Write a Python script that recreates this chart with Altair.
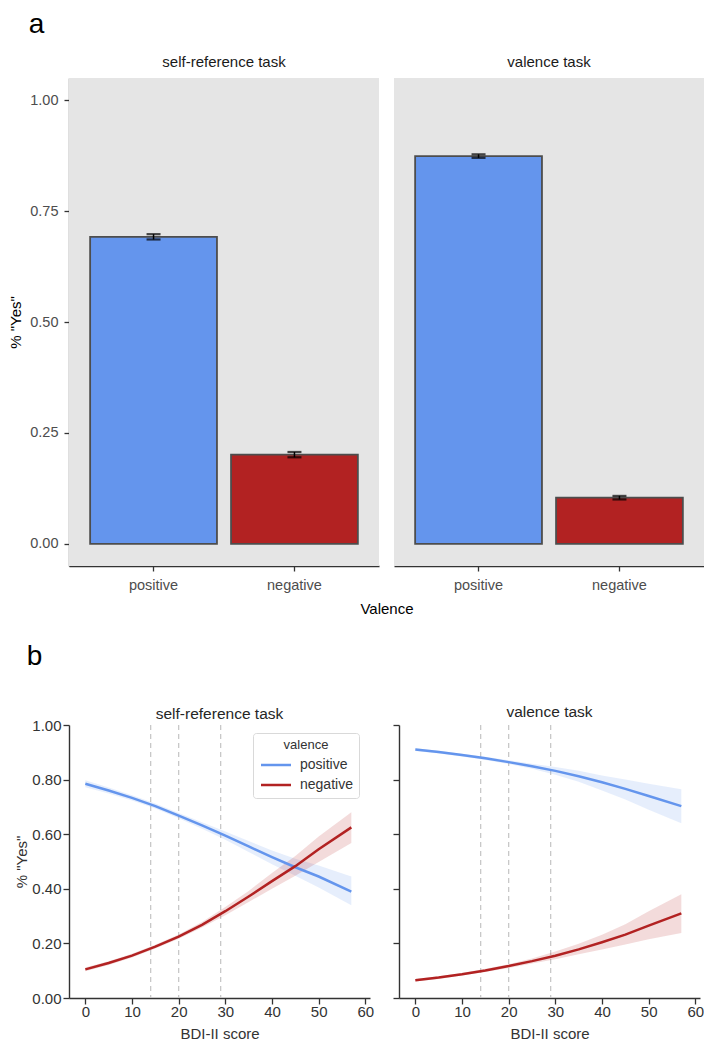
import altair as alt
import pandas as pd

FONT = "Liberation Sans"

tasks = ["self-reference task", "valence task"]
valences = ["positive", "negative"]
colors = ["#6495ED", "#B22222"]

# ---- panel a: proportion of "Yes" responses ----
bar_task = ["self-reference task", "self-reference task", "valence task", "valence task"]
bar_valence = ["positive", "negative", "positive", "negative"]
bar_mean = [0.692, 0.201, 0.874, 0.104]
bar_se = [0.006, 0.006, 0.004, 0.004]

# ---- panel b: model predictions over BDI-II score ----
bdi = [0, 5, 10, 15, 20, 25, 30, 35, 40, 45, 50, 57]
self_pos = [0.785, 0.760, 0.733, 0.703, 0.668, 0.632, 0.595, 0.555, 0.516, 0.479, 0.445, 0.390]
self_pos_lo = [0.772, 0.749, 0.723, 0.694, 0.658, 0.620, 0.580, 0.535, 0.490, 0.448, 0.405, 0.340]
self_pos_hi = [0.798, 0.771, 0.743, 0.712, 0.678, 0.644, 0.610, 0.575, 0.540, 0.510, 0.485, 0.445]
self_neg = [0.105, 0.128, 0.155, 0.188, 0.225, 0.268, 0.318, 0.372, 0.428, 0.483, 0.545, 0.625]
self_neg_lo = [0.098, 0.121, 0.148, 0.181, 0.217, 0.258, 0.303, 0.352, 0.400, 0.448, 0.498, 0.568]
self_neg_hi = [0.112, 0.135, 0.162, 0.195, 0.233, 0.278, 0.333, 0.392, 0.458, 0.520, 0.592, 0.680]
val_pos = [0.910, 0.901, 0.890, 0.878, 0.864, 0.849, 0.832, 0.812, 0.790, 0.766, 0.740, 0.703]
val_pos_lo = [0.905, 0.896, 0.885, 0.872, 0.857, 0.840, 0.818, 0.792, 0.760, 0.727, 0.690, 0.640]
val_pos_hi = [0.915, 0.906, 0.895, 0.884, 0.871, 0.858, 0.846, 0.832, 0.815, 0.800, 0.785, 0.765]
val_neg = [0.065, 0.075, 0.087, 0.101, 0.117, 0.135, 0.155, 0.178, 0.204, 0.232, 0.265, 0.310]
val_neg_lo = [0.060, 0.070, 0.082, 0.095, 0.110, 0.126, 0.142, 0.160, 0.178, 0.196, 0.215, 0.238]
val_neg_hi = [0.070, 0.080, 0.092, 0.107, 0.124, 0.145, 0.170, 0.199, 0.232, 0.270, 0.318, 0.380]
cutoffs = [14, 20, 29]

# ---------------- panel a ----------------
df_a = pd.DataFrame({
    "task": bar_task,
    "valence": bar_valence,
    "mean": bar_mean,
    "lo": [m - s for m, s in zip(bar_mean, bar_se)],
    "hi": [m + s for m, s in zip(bar_mean, bar_se)],
})

x_a = alt.X(
    "valence:N", sort=valences, title=None,
    scale=alt.Scale(paddingInner=0.1, paddingOuter=0.15),
    axis=alt.Axis(labelAngle=0, labelFontSize=14.5, labelColor="#4D4D4D",
                  tickColor="#333333", tickSize=5, domainColor="#333333",
                  domainWidth=1.3, tickWidth=1.3, labelPadding=7),
)
y_scale_a = alt.Scale(domain=[-0.05, 1.05], nice=False, zero=False)
y_a = alt.Y(
    "mean:Q", title='% "Yes"', scale=y_scale_a,
    axis=alt.Axis(values=[0, 0.25, 0.5, 0.75, 1.0], format=".2f", grid=False,
                  labelFontSize=14.5, labelColor="#4D4D4D", tickColor="#333333",
                  tickSize=5, tickWidth=1.3, domainColor="#333333", domainWidth=1.3,
                  labelPadding=6, titleFontSize=15, titleFontWeight="normal",
                  titleColor="#000000", titlePadding=6),
)
color_a = alt.Color("valence:N", scale=alt.Scale(domain=valences, range=colors), legend=None)

base_a = alt.Chart(df_a)
bars = base_a.mark_bar(stroke="#4D4D4D", strokeWidth=1.8).encode(
    x=x_a, y=y_a, y2=alt.datum(0), color=color_a)
err_rule = base_a.mark_rule(color="black", strokeWidth=1.5).encode(
    x=x_a, y=alt.Y("lo:Q", scale=y_scale_a, title='% "Yes"'), y2="hi:Q")
err_lo = base_a.mark_tick(color="black", size=14, thickness=2.2).encode(
    x=x_a, y=alt.Y("lo:Q", scale=y_scale_a, title='% "Yes"'))
err_hi = base_a.mark_tick(color="black", size=14, thickness=2.2).encode(
    x=x_a, y=alt.Y("hi:Q", scale=y_scale_a, title='% "Yes"'))

layer_a = alt.layer(bars, err_rule, err_lo, err_hi).properties(
    width=310, height=488,
    view=alt.ViewBackground(fill="#E5E5E5", stroke=None),
)
chart_a = layer_a.facet(
    column=alt.Column(
        "task:N", sort=tasks,
        header=alt.Header(title="Valence", titleOrient="bottom", labelOrient="top",
                          labelFontSize=15, labelColor="#1A1A1A", labelPadding=8,
                          titleFontSize=15, titleFontWeight="normal",
                          titleColor="#000000", titlePadding=0, labelFont=FONT, titleFont=FONT),
    ),
    spacing=15,
    title=alt.TitleParams("a", anchor="start", fontSize=28, fontWeight="normal",
                          color="#000000", dx=20, offset=16, font=FONT),
)

# ---------------- panel b ----------------
rows = []
series = {
    ("self-reference task", "positive"): (self_pos, self_pos_lo, self_pos_hi),
    ("self-reference task", "negative"): (self_neg, self_neg_lo, self_neg_hi),
    ("valence task", "positive"): (val_pos, val_pos_lo, val_pos_hi),
    ("valence task", "negative"): (val_neg, val_neg_lo, val_neg_hi),
}
for (task, val), (m, lo, hi) in series.items():
    for i, b in enumerate(bdi):
        rows.append({"task": task, "valence": val, "bdi": b, "mean": m[i], "lo": lo[i], "hi": hi[i]})
df_b = pd.DataFrame(rows)
df_cut = pd.DataFrame({"bdi": cutoffs})


def panel_b(task, first):
    d = df_b[df_b["task"] == task]
    x_scale = alt.Scale(domain=[-3.5, 61], nice=False, zero=False)
    x_axis = alt.Axis(values=[0, 10, 20, 30, 40, 50, 60], grid=False, labelFontSize=15,
                      labelColor="#333333", tickColor="#333333", tickSize=6, tickWidth=1.3,
                      domainColor="#333333", domainWidth=1.4, labelPadding=0,
                      titleFontSize=15, titleFontWeight="normal", titleColor="#333333",
                      titlePadding=7)
    y_scale = alt.Scale(domain=[0, 1], nice=False, zero=False)
    y_axis = alt.Axis(values=[0, 0.2, 0.4, 0.6, 0.8, 1.0], format=".2f", grid=False,
                      labels=first, labelFontSize=15, labelColor="#333333",
                      tickColor="#333333", tickSize=6, tickWidth=1.3, domainColor="#333333",
                      domainWidth=1.4, labelPadding=2, titleFontSize=15,
                      titleFontWeight="normal", titleColor="#333333", titlePadding=2)
    ytitle = '% "Yes"' if first else None
    xe = alt.X("bdi:Q", title="BDI-II score", scale=x_scale, axis=x_axis)

    layers = [alt.Chart(df_cut).mark_rule(strokeDash=[5, 4], color="#C8C8C8",
                                          strokeWidth=1.3).encode(x=xe)]
    for val, col in zip(valences, colors):
        dv = d[d["valence"] == val]
        layers.append(alt.Chart(dv).mark_area(color=col, opacity=0.16).encode(
            x=xe,
            y=alt.Y("lo:Q", title=ytitle, scale=y_scale, axis=y_axis),
            y2="hi:Q",
        ))
    if first:
        leg = alt.Legend(title="valence", orient="none", legendX=184, legendY=8,
                         symbolType="M-2,0L2,0", symbolSize=225, symbolStrokeWidth=2.5,
                         symbolOffset=8, labelOffset=15,
                         labelFontSize=14, labelColor="#333333", titleFontSize=13,
                         titleFontWeight="normal", titleColor="#333333", titleAnchor="middle",
                         strokeColor="#D9D9D9", fillColor="white", cornerRadius=3,
                         padding=6, rowPadding=4, titlePadding=4,
                         labelFont=FONT, titleFont=FONT)
    else:
        leg = None
    layers.append(alt.Chart(d).mark_line(strokeWidth=2.5).encode(
        x=xe,
        y=alt.Y("mean:Q", title=ytitle, scale=y_scale, axis=y_axis),
        stroke=alt.Stroke("valence:N", sort=valences,
                          scale=alt.Scale(domain=valences, range=colors), legend=leg),
    ))
    return alt.layer(*layers).properties(
        width=301, height=273,
        title=alt.TitleParams(task, fontSize=15.5, fontWeight="normal", color="#262626",
                              offset=-4 if first else 3.5, font=FONT),
        view=alt.ViewBackground(stroke=None),
    )


chart_b = alt.hconcat(
    panel_b("self-reference task", True),
    panel_b("valence task", False),
    spacing=18,
    title=alt.TitleParams("b", anchor="start", fontSize=28, fontWeight="normal",
                          color="#000000", dx=12, offset=34, font=FONT),
).resolve_scale(stroke="independent").resolve_legend(stroke="independent")

chart = alt.vconcat(chart_a, chart_b, spacing=26).resolve_scale(
    color="independent", stroke="independent"
).properties(
    padding={"top": 3, "left": 0, "right": 0, "bottom": 0}
).configure(font=FONT).configure_view(stroke=None)

chart.save("out.html", embed_options={"renderer": "svg", "actions": False})
